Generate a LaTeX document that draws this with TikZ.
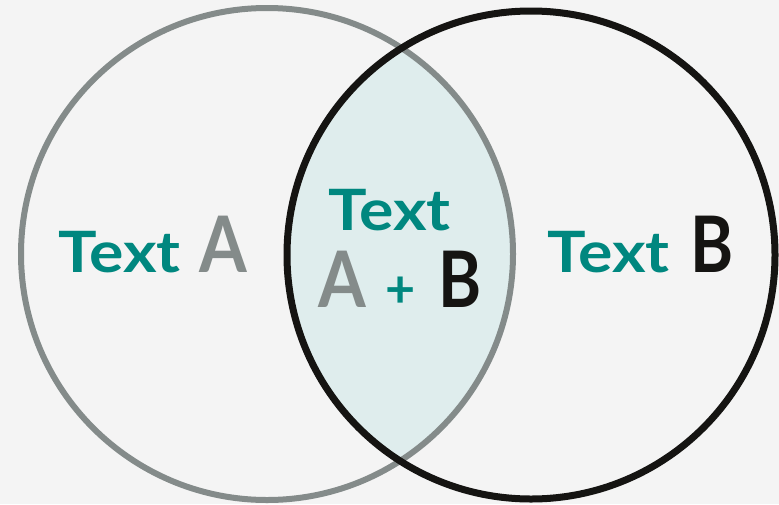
\documentclass[tikz,border=0pt]{standalone}
\usepackage{fontspec}
\setmainfont{Lato}
\usetikzlibrary{positioning}
\definecolor{fondo}{HTML}{F4F4F4}
\definecolor{grisA}{HTML}{848B8A}
\definecolor{negroB}{HTML}{151412}
\definecolor{turquesa}{HTML}{00877F}
\definecolor{cruce}{HTML}{DFEDED}
\newcommand{\ancho}[2]{\scalebox{#1}[1]{#2}}
\tikzset{
  etiqueta/.style={inner sep=0pt, anchor=base west, text=turquesa,
    font=\bfseries\fontsize{57}{60}\selectfont},
  letra/.style={inner sep=0pt, anchor=base west,
    font=\bfseries\fontsize{78}{80}\selectfont},
}
\begin{document}
\begin{tikzpicture}[x=1pt, y=-1pt]
			\fill[fondo] (0,0) rectangle (779,504);
			\useasboundingbox (0,0) rectangle (779,504);
			% zona comun
			\begin{scope}
				\clip (267,254) circle[radius=246];
				\fill[cruce] (531,255) circle[radius=244];
			\end{scope}
			\draw[grisA, line width=6pt] (267,254) circle[radius=246];
			\draw[negroB, line width=7pt] (531,255) circle[radius=244];
			% textos
			\node[etiqueta] (textoA) at (58,272) {\ancho{1.13}{Text}};
			\node[letra, text=grisA] (letraA) at (199,272) {\ancho{0.88}{A}};
			\node[etiqueta] (textoAB) at (328,230) {\ancho{1.13}{Text}};
			\node[letra, text=grisA] (letraAB) at (318,307) {\ancho{0.88}{A}};
			\node[etiqueta, font=\bfseries\fontsize{52}{56}\selectfont] (mas) at (385,307) {+};
			\node[letra, text=negroB] (letraBA) at (438,307) {\ancho{0.84}{B}};
			\node[etiqueta] (textoB) at (547,272) {\ancho{1.13}{Text}};
			\node[letra, text=negroB] (letraB) at (690,272) {\ancho{0.84}{B}};
		\end{tikzpicture}
\end{document}
